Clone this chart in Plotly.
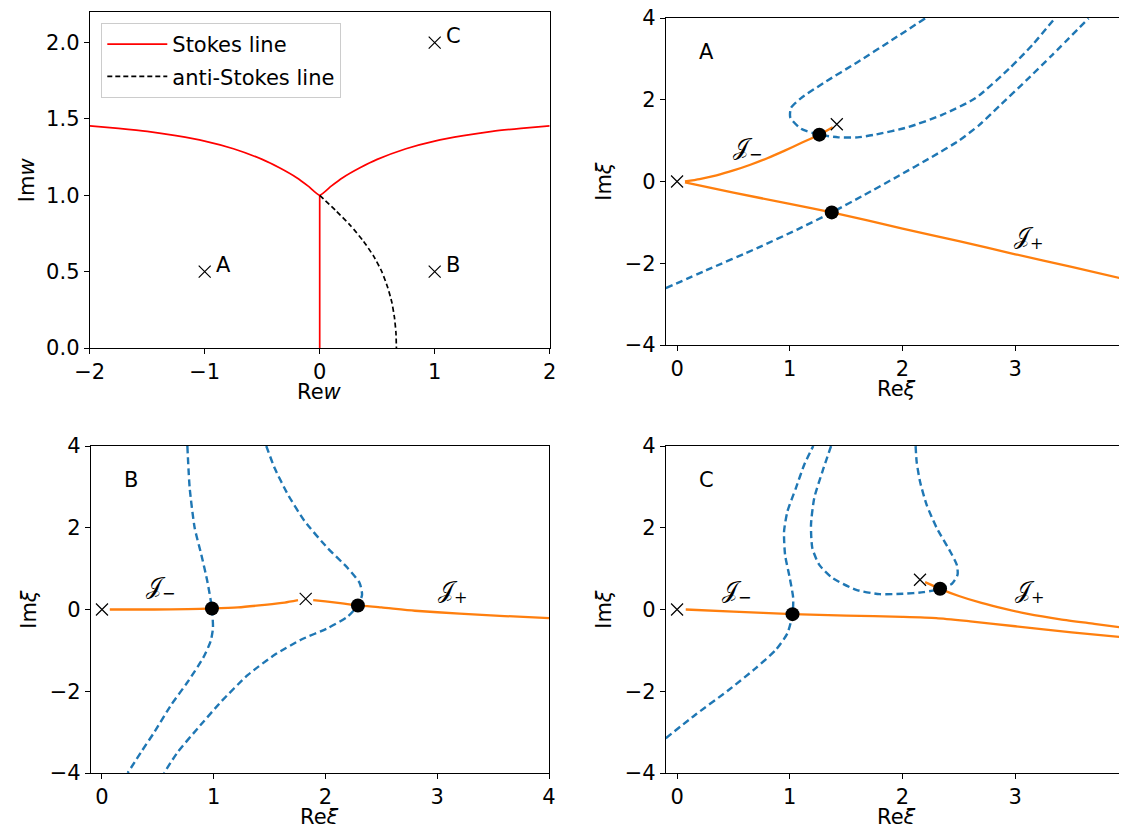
import plotly.graph_objects as go

# ---------------- Panel 1 : w-plane ----------------
stokes_x = [-2.0, -1.75, -1.5, -1.25, -1.0, -0.75, -0.5, -0.35, -0.2, -0.1, 0.0,
            0.1, 0.2, 0.35, 0.5, 0.75, 1.0, 1.25, 1.5, 1.75, 2.0]
stokes_y = [1.455, 1.438, 1.418, 1.39, 1.355, 1.305, 1.235, 1.18, 1.115, 1.06, 1.0,
            1.06, 1.115, 1.18, 1.235, 1.305, 1.355, 1.39, 1.418, 1.438, 1.455]
stokes_v_x = [0.0, 0.0]
stokes_v_y = [0.0, 1.0]
anti_x = [0.0, 0.14, 0.27, 0.38, 0.47, 0.54, 0.59, 0.627, 0.65, 0.663, 0.667]
anti_y = [1.0, 0.9, 0.8, 0.7, 0.6, 0.5, 0.4, 0.3, 0.2, 0.1, 0.0]
pts_labels = ["A", "B", "C"]
pts_x = [-1.0, 1.0, 1.0]
pts_y = [0.5, 0.5, 2.0]

# ---------------- Panel A ----------------
A_jm_x = [0.07, 0.2, 0.35, 0.5, 0.65, 0.8, 0.95, 1.1, 1.262, 1.38]
A_jm_y = [0.0, 0.06, 0.15, 0.27, 0.41, 0.57, 0.75, 0.94, 1.146, 1.33]
A_jp_x = [0.07, 0.5, 1.0, 1.372, 2.0, 2.5, 3.0, 3.5, 4.0]
A_jp_y = [-0.02, -0.27, -0.55, -0.756, -1.15, -1.46, -1.78, -2.09, -2.41]
A_b1_x = [-0.1, 0.26, 0.71, 1.07, 1.372, 1.66, 1.96, 2.26, 2.5, 2.68, 2.86, 3.1, 3.33, 3.65]
A_b1_y = [-2.61, -2.17, -1.63, -1.17, -0.756, -0.33, 0.13, 0.6, 1.0, 1.38, 1.85, 2.48, 3.1, 3.99]
A_b2_x = [2.2, 1.9, 1.6, 1.3, 1.1, 1.01, 1.005, 1.1, 1.262, 1.43, 1.6, 1.754, 2.05, 2.35, 2.648, 2.946, 3.155, 3.35]
A_b2_y = [3.99, 3.45, 2.92, 2.41, 2.04, 1.8, 1.56, 1.29, 1.146, 1.08, 1.08, 1.146, 1.33, 1.63, 2.04, 2.76, 3.35, 3.99]
A_cross_x = [0.0, 1.417]
A_cross_y = [0.0, 1.40]
A_dot_x = [1.262, 1.372]
A_dot_y = [1.146, -0.756]

# ---------------- Panel B ----------------
B_jm_x = [0.07, 0.47, 0.77, 0.984, 1.217, 1.456, 1.635, 1.754]
B_jm_y = [0.0, 0.0, 0.01, 0.024, 0.05, 0.114, 0.17, 0.23]
B_jp_x = [1.89, 2.0, 2.15, 2.29, 2.5, 2.8, 3.2, 3.6, 4.0]
B_jp_y = [0.23, 0.2, 0.15, 0.1, 0.05, -0.03, -0.1, -0.16, -0.21]
B_b1_x = [0.764, 0.785, 0.83, 0.889, 0.943, 0.984, 0.993, 0.972, 0.904, 0.77, 0.62, 0.471, 0.352, 0.23]
B_b1_y = [4.0, 2.97, 1.99, 1.34, 0.686, 0.024, -0.457, -0.78, -1.19, -1.76, -2.33, -2.99, -3.48, -4.0]
B_b2_x = [1.47, 1.545, 1.664, 1.814, 2.02, 2.2, 2.306, 2.327, 2.29, 2.2, 2.02, 1.78, 1.545, 1.306, 1.068, 0.859, 0.68, 0.555]
B_b2_y = [4.0, 3.46, 2.81, 2.16, 1.5, 1.01, 0.645, 0.36, 0.098, -0.17, -0.457, -0.74, -1.11, -1.6, -2.25, -2.9, -3.48, -4.0]
B_cross_x = [0.0, 1.823]
B_cross_y = [0.0, 0.26]
B_dot_x = [0.984, 2.29]
B_dot_y = [0.024, 0.098]

# ---------------- Panel C ----------------
C_jm_x = [0.077, 0.5, 1.024, 1.5, 2.0, 2.3, 2.6, 3.0, 3.5, 4.0]
C_jm_y = [0.0, -0.05, -0.114, -0.15, -0.18, -0.21, -0.29, -0.41, -0.56, -0.69]
C_jp_x = [2.2, 2.333, 2.5, 2.7, 2.9, 3.1, 3.4, 3.7, 4.0]
C_jp_y = [0.67, 0.506, 0.33, 0.16, 0.02, -0.1, -0.24, -0.35, -0.46]
C_b1_x = [-0.1, 0.16, 0.458, 0.696, 0.875, 0.979, 1.024, 1.03, 1.0, 0.958, 0.949, 0.979, 1.054, 1.128, 1.208]
C_b1_y = [-3.15, -2.58, -1.97, -1.44, -0.99, -0.58, -0.114, 0.278, 0.767, 1.34, 1.91, 2.4, 2.97, 3.54, 4.0]
C_b2_x = [1.366, 1.29, 1.217, 1.188, 1.2, 1.262, 1.38, 1.589, 1.798, 2.006, 2.185, 2.333, 2.438, 2.488,
          2.482, 2.423, 2.304, 2.214, 2.155, 2.125, 2.116]
C_b2_y = [4.0, 3.38, 2.73, 2.07, 1.5, 1.09, 0.767, 0.48, 0.376, 0.384, 0.424, 0.506, 0.63, 0.849,
          1.09, 1.42, 1.99, 2.56, 3.13, 3.62, 4.0]
C_cross_x = [0.0, 2.155]
C_cross_y = [0.0, 0.727]
C_dot_x = [1.024, 2.333]
C_dot_y = [-0.114, 0.506]

FONT = "DejaVu Sans"
FS = 21
ORANGE = "#ff7f0e"
BLUE = "#1f77b4"
W, H = 1127, 824

fig = go.Figure()

# Panel 1
fig.add_trace(go.Scatter(x=stokes_x, y=stokes_y, mode="lines", name="Stokes line",
                         line=dict(color="red", width=1.7, shape="spline", smoothing=0.5),
                         legendgroup="s", xaxis="x", yaxis="y"))
fig.add_trace(go.Scatter(x=stokes_v_x, y=stokes_v_y, mode="lines", showlegend=False,
                         line=dict(color="red", width=1.7), xaxis="x", yaxis="y"))
fig.add_trace(go.Scatter(x=anti_x, y=anti_y, mode="lines", name="anti-Stokes line",
                         line=dict(color="black", width=1.7, dash="5px,3px", shape="spline", smoothing=0.5),
                         legendgroup="a", xaxis="x", yaxis="y"))
fig.add_trace(go.Scatter(x=pts_x, y=pts_y, mode="markers", showlegend=False,
                         marker=dict(symbol="x-thin", size=12, line=dict(width=1.2, color="black")),
                         xaxis="x", yaxis="y"))


def panel(ax, ay, jm_x, jm_y, jp_x, jp_y, b1_x, b1_y, b2_x, b2_y, cx, cy, dx, dy):
    for bx, by in ((b1_x, b1_y), (b2_x, b2_y)):
        fig.add_trace(go.Scatter(x=bx, y=by, mode="lines", showlegend=False,
                                 line=dict(color=BLUE, width=2.4, dash="7px,4px", shape="spline", smoothing=0.6),
                                 xaxis=ax, yaxis=ay))
    for jx, jy in ((jm_x, jm_y), (jp_x, jp_y)):
        fig.add_trace(go.Scatter(x=jx, y=jy, mode="lines", showlegend=False,
                                 line=dict(color=ORANGE, width=2.3, shape="spline", smoothing=0.6),
                                 xaxis=ax, yaxis=ay))
    fig.add_trace(go.Scatter(x=cx, y=cy, mode="markers", showlegend=False,
                             marker=dict(symbol="x-thin", size=12, line=dict(width=1.2, color="black")),
                             xaxis=ax, yaxis=ay))
    fig.add_trace(go.Scatter(x=dx, y=dy, mode="markers", showlegend=False,
                             marker=dict(symbol="circle", size=14, color="black"),
                             xaxis=ax, yaxis=ay))


panel("x2", "y2", A_jm_x, A_jm_y, A_jp_x, A_jp_y, A_b1_x, A_b1_y, A_b2_x, A_b2_y,
      A_cross_x, A_cross_y, A_dot_x, A_dot_y)
panel("x3", "y3", B_jm_x, B_jm_y, B_jp_x, B_jp_y, B_b1_x, B_b1_y, B_b2_x, B_b2_y,
      B_cross_x, B_cross_y, B_dot_x, B_dot_y)
panel("x4", "y4", C_jm_x, C_jm_y, C_jp_x, C_jp_y, C_b1_x, C_b1_y, C_b2_x, C_b2_y,
      C_cross_x, C_cross_y, C_dot_x, C_dot_y)

axis_common = dict(showline=True, linecolor="black", linewidth=1, mirror=True,
                   ticks="outside", ticklen=5, tickwidth=1, tickcolor="black",
                   showgrid=False, zeroline=False, automargin=False,
                   ticklabeloverflow="allow",
                   tickfont=dict(family=FONT, size=FS, color="black"))

# pixel boxes of the four panels: (left, right, top, bottom)
P1 = (81.7, 541.7, 4.0, 340.0)
P2 = (657.8, 1120.0, 10.0, 337.0)
P3 = (82.8, 541.0, 438.0, 765.0)
P4 = (657.8, 1120.0, 438.0, 765.0)


def dom(p):
    l, r, t, b = p
    return [l / W, r / W], [1 - b / H, 1 - t / H]


d1x, d1y = dom(P1)
d2x, d2y = dom(P2)
d3x, d3y = dom(P3)
d4x, d4y = dom(P4)

fig.update_layout(
    width=W, height=H,
    margin=dict(l=0, r=0, t=0, b=0),
    paper_bgcolor="white", plot_bgcolor="white",
    font=dict(family=FONT, size=FS, color="black"),
    xaxis=dict(axis_common, domain=d1x, range=[-2, 2], tickvals=[-2, -1, 0, 1, 2], anchor="y"),
    yaxis=dict(axis_common, domain=d1y, range=[0, 2.2], tickvals=[0, 0.5, 1.0, 1.5, 2.0],
               tickformat=".1f", anchor="x"),
    xaxis2=dict(axis_common, domain=d2x, range=[-0.1, 4], tickvals=[0, 1, 2, 3, 4], anchor="y2"),
    yaxis2=dict(axis_common, domain=d2y, range=[-4, 4], tickvals=[-4, -2, 0, 2, 4], anchor="x2"),
    xaxis3=dict(axis_common, domain=d3x, range=[-0.1, 4], tickvals=[0, 1, 2, 3, 4], anchor="y3"),
    yaxis3=dict(axis_common, domain=d3y, range=[-4, 4], tickvals=[-4, -2, 0, 2, 4], anchor="x3"),
    xaxis4=dict(axis_common, domain=d4x, range=[-0.1, 4], tickvals=[0, 1, 2, 3, 4], anchor="y4"),
    yaxis4=dict(axis_common, domain=d4y, range=[-4, 4], tickvals=[-4, -2, 0, 2, 4], anchor="x4"),
    legend=dict(x=93.3 / W, y=1 - 15 / H, xanchor="left", yanchor="top",
                bordercolor="#cccccc", borderwidth=1, bgcolor="rgba(255,255,255,0.8)",
                font=dict(family=FONT, size=FS, color="black"),
                traceorder="grouped", tracegroupgap=2, itemwidth=60),
    showlegend=True,
)

ann = []
# axis titles
x_titles = [("Re<i>w</i>", P1), ("Re<i>ξ</i>", P2), ("Re<i>ξ</i>", P3), ("Re<i>ξ</i>", P4)]
for t, p in x_titles:
    l, r, tp, b = p
    ann.append(dict(x=(l + r) / 2 / W, y=1 - (b + 44.3) / H, xref="paper", yref="paper",
                    text=t, showarrow=False, xanchor="center", yanchor="middle",
                    font=dict(family=FONT, size=FS)))
y_titles = [("Im<i>w</i>", P1), ("Im<i>ξ</i>", P2), ("Im<i>ξ</i>", P3), ("Im<i>ξ</i>", P4)]
for t, p in y_titles:
    l, r, tp, b = p
    ann.append(dict(x=(l - 62.5) / W, y=1 - (tp + b) / 2 / H, xref="paper", yref="paper",
                    text=t, showarrow=False, xanchor="center", yanchor="middle", textangle=-90,
                    font=dict(family=FONT, size=FS)))

for lab, px, py in zip(pts_labels, pts_x, pts_y):
    ann.append(dict(x=px + 0.08, y=py + 0.045, xref="x", yref="y", text=lab, showarrow=False,
                    xanchor="left", yanchor="middle", font=dict(family=FONT, size=FS)))

panel_labels = [("A", "x2", "y2"), ("B", "x3", "y3"), ("C", "x4", "y4")]
for lab, xr, yr in panel_labels:
    ann.append(dict(x=0.26, y=3.17, xref=xr, yref=yr, text=lab, showarrow=False,
                    font=dict(family=FONT, size=FS)))

j_labels = [
    ("𝒥<sub>−</sub>", 0.63, 0.80, "x2", "y2"),
    ("𝒥<sub>+</sub>", 3.12, -1.39, "x2", "y2"),
    ("𝒥<sub>−</sub>", 0.53, 0.52, "x3", "y3"),
    ("𝒥<sub>+</sub>", 3.14, 0.44, "x3", "y3"),
    ("𝒥<sub>−</sub>", 0.53, 0.44, "x4", "y4"),
    ("𝒥<sub>+</sub>", 3.13, 0.44, "x4", "y4"),
]
for t, jx, jy, xr, yr in j_labels:
    ann.append(dict(x=jx, y=jy, xref=xr, yref=yr, text=t, showarrow=False,
                    font=dict(family="DejaVu Serif", size=FS + 2)))

fig.update_layout(annotations=ann)

fig.write_html("out.html")
